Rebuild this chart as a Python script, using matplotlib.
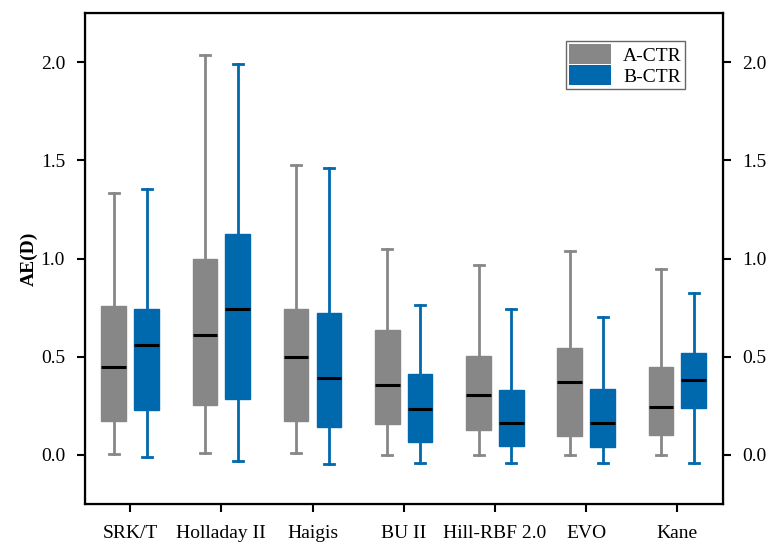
import matplotlib
matplotlib.use("Agg")
import matplotlib.pyplot as plt
from matplotlib.patches import Patch

plt.rcParams['font.family'] = ['Liberation Serif', 'DejaVu Serif']

formulas = ["SRK/T", "Holladay II", "Haigis", "BU II", "Hill-RBF 2.0", "EVO", "Kane"]

# whisker low, Q1, median, Q3, whisker high
a_low = [0.005, 0.01, 0.01, 0.0, 0.0, 0.0, 0.0]
a_q1 = [0.173, 0.254, 0.173, 0.159, 0.125, 0.098, 0.103]
a_med = [0.447, 0.609, 0.501, 0.355, 0.303, 0.372, 0.245]
a_q3 = [0.756, 0.997, 0.745, 0.635, 0.506, 0.547, 0.447]
a_high = [1.335, 2.035, 1.475, 1.047, 0.968, 1.04, 0.948]

b_low = [-0.012, -0.03, -0.045, -0.04, -0.04, -0.04, -0.04]
b_q1 = [0.228, 0.283, 0.144, 0.064, 0.046, 0.041, 0.237]
b_med = [0.562, 0.745, 0.391, 0.233, 0.162, 0.162, 0.379]
b_q3 = [0.745, 1.123, 0.724, 0.41, 0.33, 0.338, 0.518]
b_high = [1.352, 1.993, 1.459, 0.761, 0.745, 0.704, 0.824]

yticks = [0.0, 0.5, 1.0, 1.5, 2.0]

gray = "#878787"
blue = "#0068ad"


def make_stats(low, q1, med, q3, high):
    return [dict(whislo=l, q1=a, med=m, q3=b, whishi=h, fliers=[])
            for l, a, m, b, h in zip(low, q1, med, q3, high)]


fig = plt.figure(figsize=(7.71, 5.45), dpi=100)
ax = fig.add_axes([0.1096, 0.0752, 0.8281, 0.9008])

pos = list(range(len(formulas)))
for stats, color, off in [(make_stats(a_low, a_q1, a_med, a_q3, a_high), gray, -0.18),
                          (make_stats(b_low, b_q1, b_med, b_q3, b_high), blue, 0.18)]:
    ax.bxp(stats, positions=[p + off for p in pos], widths=0.27,
           patch_artist=True, showfliers=False,
           boxprops=dict(facecolor=color, edgecolor=color, linewidth=1),
           whiskerprops=dict(color=color, linewidth=2),
           capprops=dict(color=color, linewidth=2),
           medianprops=dict(color="black", linewidth=2.2),
           capwidths=0.11)

ax.set_xlim(-0.5, 6.5)
ax.set_ylim(-0.25, 2.25)
ax.set_xticks(pos)
ax.set_xticklabels(formulas, fontsize=14)
ax.set_yticks(yticks)
ax.set_yticklabels([f"{v:.1f}" for v in yticks], fontsize=14)
ax.set_ylabel("AE(D)", fontsize=14, fontweight="bold", labelpad=2)
ax.tick_params(axis="x", length=6, width=1.5, pad=9)
ax.tick_params(axis="y", length=6, width=1.5, pad=8)
for s in ax.spines.values():
    s.set_linewidth(1.6)

ax2 = ax.twinx()
ax2.set_ylim(ax.get_ylim())
ax2.set_yticks(yticks)
ax2.set_yticklabels([f"{v:.1f}" for v in yticks], fontsize=14)
ax2.tick_params(axis="y", length=6, width=1.5, pad=8)

handles = [Patch(facecolor=gray, label="A-CTR"), Patch(facecolor=blue, label="B-CTR")]
ax.legend(handles=handles, loc="upper right", bbox_to_anchor=(0.940, 0.943),
          fontsize=14, fancybox=False, edgecolor="#666666", framealpha=1,
          handlelength=2.2, handleheight=1.2, labelspacing=0.05,
          borderpad=0.15, handletextpad=0.6, borderaxespad=0)

fig.savefig("out.png", dpi=100)
